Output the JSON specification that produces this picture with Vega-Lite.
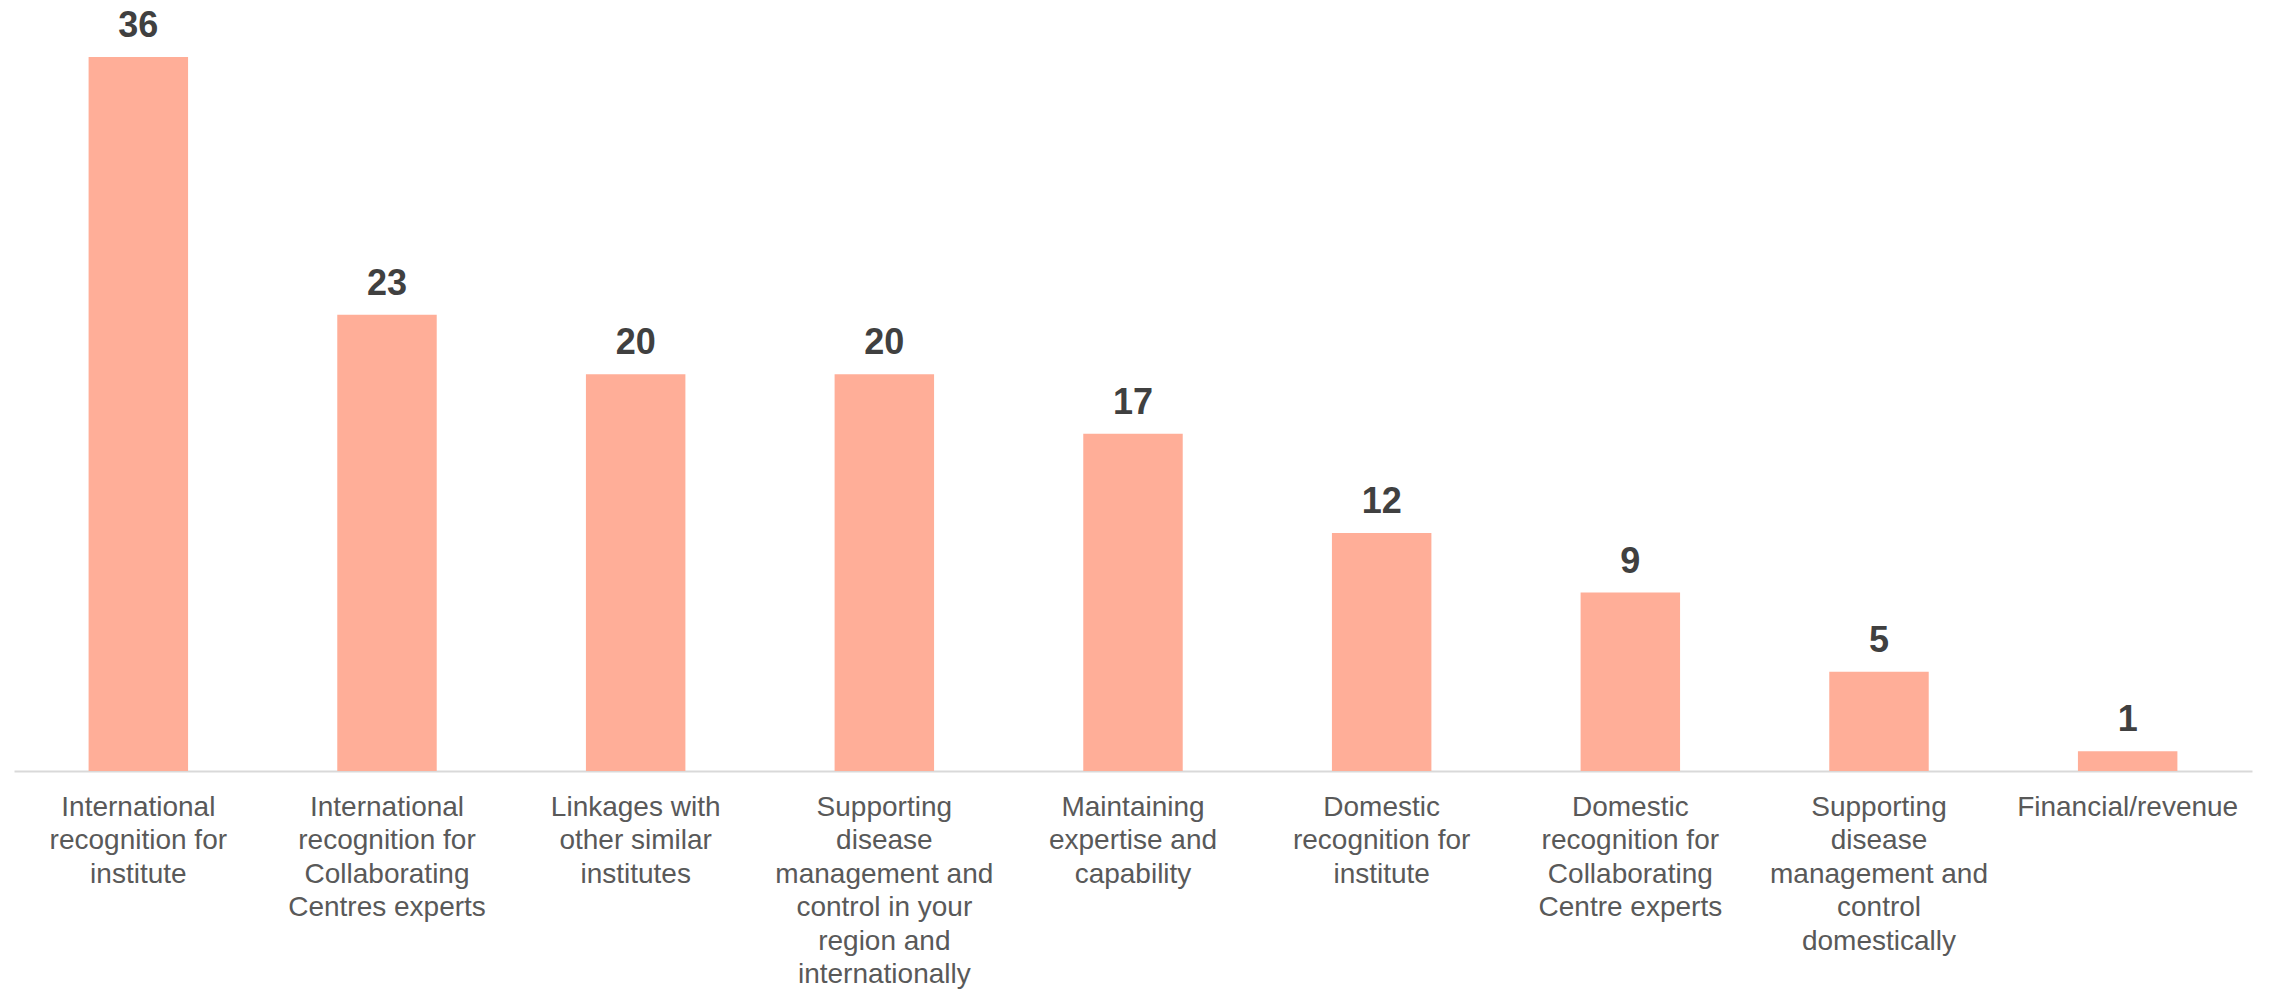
{
  "$schema": "https://vega.github.io/schema/vega-lite/v6.json",
  "autosize": {"type": "none"},
  "width": 2238,
  "height": 714,
  "padding": {"left": 14, "top": 57, "right": 17, "bottom": 220},
  "background": "white",
  "config": {"view": {"stroke": null}, "font": "Liberation Sans"},
  "data": {
    "values": [
      {"category": "International recognition for institute", "count": 36},
      {"category": "International recognition for Collaborating Centres experts", "count": 23},
      {"category": "Linkages with other similar institutes", "count": 20},
      {"category": "Supporting disease management and control in your region and internationally", "count": 20},
      {"category": "Maintaining expertise and capability", "count": 17},
      {"category": "Domestic recognition for institute", "count": 12},
      {"category": "Domestic recognition for Collaborating Centre experts", "count": 9},
      {"category": "Supporting disease management and control domestically", "count": 5},
      {"category": "Financial/revenue", "count": 1}
    ]
  },
  "encoding": {
    "x": {
      "field": "category",
      "type": "nominal",
      "sort": null,
      "scale": {"paddingInner": 0.6, "paddingOuter": 0.3},
      "axis": {
        "title": null,
        "labelAngle": 0,
        "labelFont": "Liberation Sans",
        "labelFontSize": 28,
        "labelColor": "#595959",
        "labelLineHeight": 33.5,
        "labelPadding": 22,
        "labelBaseline": "top",
        "labelLimit": 0,
        "ticks": false,
        "domainColor": "#D9D9D9",
        "domainWidth": 2,
        "grid": false,
        "labelExpr": "({'International recognition for institute': ['International','recognition for','institute'], 'International recognition for Collaborating Centres experts': ['International','recognition for','Collaborating','Centres experts'], 'Linkages with other similar institutes': ['Linkages with','other similar','institutes'], 'Supporting disease management and control in your region and internationally': ['Supporting','disease','management and','control in your','region and','internationally'], 'Maintaining expertise and capability': ['Maintaining','expertise and','capability'], 'Domestic recognition for institute': ['Domestic','recognition for','institute'], 'Domestic recognition for Collaborating Centre experts': ['Domestic','recognition for','Collaborating','Centre experts'], 'Supporting disease management and control domestically': ['Supporting','disease','management and','control','domestically'], 'Financial/revenue': ['Financial/revenue']})[datum.value]"
      }
    },
    "y": {
      "field": "count",
      "type": "quantitative",
      "scale": {"domain": [0, 36], "nice": false},
      "axis": null
    }
  },
  "layer": [
    {"mark": {"type": "bar", "color": "#FFAE98"}},
    {
      "mark": {
        "type": "text",
        "baseline": "alphabetic",
        "dy": -20,
        "font": "Liberation Sans",
        "fontWeight": "bold",
        "fontSize": 36,
        "color": "#404040"
      },
      "encoding": {"text": {"field": "count", "type": "quantitative"}}
    }
  ]
}
